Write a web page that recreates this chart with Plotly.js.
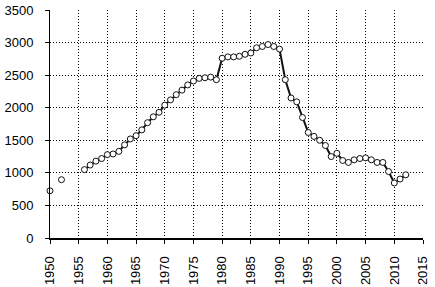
<!DOCTYPE html>
<html>
<head>
<meta charset="utf-8">
<script src="https://cdn.plot.ly/plotly-3.0.1.min.js"></script>
<style>html,body{margin:0;padding:0;background:#fff;}#chart{width:435px;height:287px;}</style>
</head>
<body>
<div id="chart"></div>
<script>
// Years and values (null = no data, line broken)
var years = [1950, 1951, 1952, 1953, 1954, 1955,
  1956, 1957, 1958, 1959, 1960, 1961, 1962, 1963, 1964, 1965,
  1966, 1967, 1968, 1969, 1970, 1971, 1972, 1973, 1974, 1975,
  1976, 1977, 1978, 1979, 1980, 1981, 1982, 1983, 1984, 1985,
  1986, 1987, 1988, 1989, 1990, 1991, 1992, 1993, 1994, 1995,
  1996, 1997, 1998, 1999, 2000, 2001, 2002, 2003, 2004, 2005,
  2006, 2007, 2008, 2009, 2010, 2011, 2012];
var values = [725, null, 895, null, null, null,
  1050, 1120, 1180, 1220, 1280, 1290, 1330, 1430, 1520, 1570,
  1660, 1770, 1860, 1930, 2040, 2120, 2200, 2270, 2350, 2410,
  2450, 2460, 2470, 2430, 2760, 2780, 2780, 2790, 2820, 2840,
  2920, 2940, 2970, 2940, 2900, 2430, 2150, 2090, 1850, 1620,
  1560, 1500, 1420, 1250, 1300, 1190, 1160, 1200, 1220, 1230,
  1200, 1160, 1160, 1020, 845, 905, 970];
var xTicks = [1950, 1955, 1960, 1965, 1970, 1975, 1980, 1985, 1990, 1995, 2000, 2005, 2010, 2015];
var yTicks = [0, 500, 1000, 1500, 2000, 2500, 3000, 3500];

var trace = {
  x: years, y: values, type: 'scatter', mode: 'lines+markers',
  connectgaps: false,
  line: {color: '#111', width: 2},
  marker: {symbol: 'circle', size: 6, color: '#fff', line: {color: '#111', width: 1}},
  cliponaxis: false,
  hoverinfo: 'skip'
};

var layout = {
  width: 435, height: 287,
  margin: {l: 50, r: 12, t: 10, b: 49},
  paper_bgcolor: '#fff', plot_bgcolor: '#fff',
  showlegend: false,
  font: {family: 'Liberation Sans, Arial, sans-serif', size: 13, color: '#000'},
  xaxis: {
    range: [1950, 2015], tickmode: 'array', tickvals: xTicks,
    ticktext: xTicks.map(String), tickangle: -90,
    showgrid: true, gridcolor: '#000', griddash: '1px,2px', gridwidth: 1,
    showline: true, linecolor: '#000', linewidth: 2,
    ticks: 'outside', ticklen: 4, tickcolor: '#000',
    zeroline: false, ticklabelstandoff: 7
  },
  yaxis: {
    range: [0, 3500], tickmode: 'array', tickvals: yTicks,
    showgrid: true, gridcolor: '#000', griddash: '1px,2px', gridwidth: 1,
    showline: true, linecolor: '#000', linewidth: 1,
    ticks: 'outside', ticklen: 4, tickcolor: '#000',
    zeroline: false, ticklabelstandoff: 9
  }
};

Plotly.newPlot('chart', [trace], layout, {displayModeBar: false, staticPlot: true});
</script>
</body>
</html>
